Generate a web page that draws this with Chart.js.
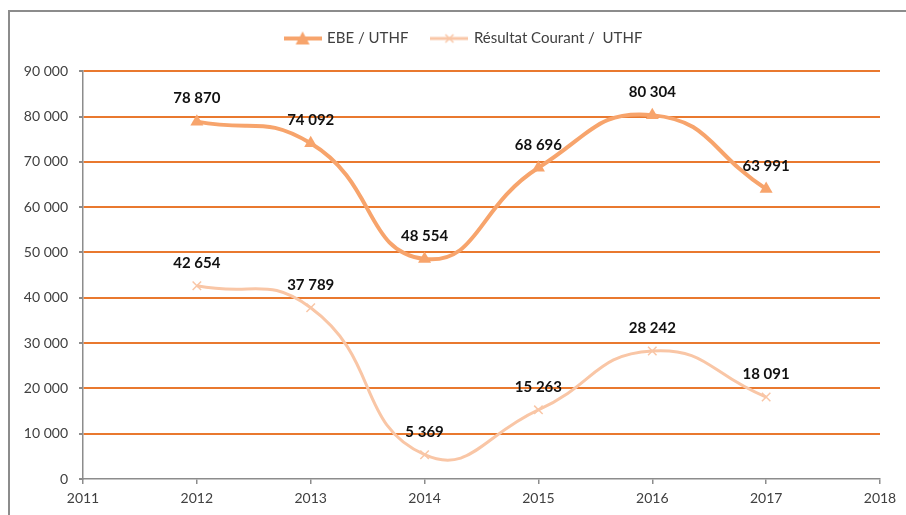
<!DOCTYPE html>
<html>
<head>
<meta charset="utf-8">
<script src="https://cdn.jsdelivr.net/npm/chart.js@4.4.1/dist/chart.umd.min.js"></script>
<style>
  html, body { margin: 0; padding: 0; background: #fff; }
  #wrap { position: relative; width: 906px; height: 515px; }
</style>
</head>
<body>
<div id="wrap"><canvas id="chart" width="906" height="515"></canvas></div>
<script>
"use strict";

// data
const years = [2012, 2013, 2014, 2015, 2016, 2017];
const ebeValues = [78870, 74092, 48554, 68696, 80304, 63991];
const resultatValues = [42654, 37789, 5369, 15263, 28242, 18091];
const seriesNames = ["EBE / UTHF", "R\u00e9sultat Courant /  UTHF"];
const xTicks = [2011, 2012, 2013, 2014, 2015, 2016, 2017, 2018];
const yTicks = [0, 10000, 20000, 30000, 40000, 50000, 60000, 70000, 80000, 90000];

const ebeColor = "#F7A46C";
const resColor = "#F9C6A6";
const gridColor = "#E9792F";
const axisColor = "#8C8C8C";
const fontFamily = "Lato, 'Open Sans', sans-serif";

function fmt(v) {
  return String(v).replace(/\B(?=(\d{3})+(?!\d))/g, " ");
}

// little legend pictures: line + marker, like the spreadsheet legend
function legendIcon(color, lineW, marker) {
  const c = document.createElement("canvas");
  c.width = 38;
  c.height = 16;
  const g = c.getContext("2d");
  g.strokeStyle = color;
  g.fillStyle = color;
  g.lineWidth = lineW;
  g.beginPath();
  g.moveTo(0, 8);
  g.lineTo(38, 8);
  g.stroke();
  if (marker === "triangle") {
    g.beginPath();
    g.moveTo(19, 1);
    g.lineTo(26, 14);
    g.lineTo(12, 14);
    g.closePath();
    g.fill();
  } else {
    g.lineWidth = 1.5;
    g.beginPath();
    g.moveTo(15, 4);
    g.lineTo(23, 12);
    g.moveTo(23, 4);
    g.lineTo(15, 12);
    g.stroke();
  }
  return c;
}
const icons = [legendIcon(ebeColor, 4, "triangle"), legendIcon(resColor, 3, "cross")];

// outer frame of the chart object
const framePlugin = {
  id: "frame",
  beforeDraw(chart) {
    const ctx = chart.ctx;
    ctx.save();
    ctx.strokeStyle = axisColor;
    ctx.lineWidth = 2;
    ctx.beginPath();
    ctx.moveTo(9, 515);
    ctx.lineTo(9, 11);
    ctx.lineTo(906, 11);
    ctx.stroke();
    ctx.restore();
  },
};

// legend is centred on the whole frame, not on the plot area
const legendShift = {
  id: "legendShift",
  afterLayout(chart) {
    if (chart.legend) chart.legend.left += 26;
  },
};

// value labels above each point
const valueLabels = {
  id: "valueLabels",
  afterDatasetsDraw(chart) {
    const ctx = chart.ctx;
    ctx.save();
    ctx.font = "bold 15px " + fontFamily;
    ctx.fillStyle = "#111";
    ctx.textAlign = "center";
    ctx.textBaseline = "middle";
    chart.data.datasets.forEach((ds, i) => {
      const meta = chart.getDatasetMeta(i);
      meta.data.forEach((pt, j) => {
        ctx.fillText(fmt(ds.data[j].y), pt.x, pt.y - 23);
      });
    });
    ctx.restore();
  },
};

const ctx = document.getElementById("chart").getContext("2d");

new Chart(ctx, {
  type: "line",
  data: {
    datasets: [
      {
        label: seriesNames[0],
        data: years.map((y, i) => ({ x: y, y: ebeValues[i] })),
        borderColor: ebeColor,
        backgroundColor: ebeColor,
        borderWidth: 4,
        tension: 0.5,
        pointStyle: "triangle",
        pointRadius: 7.5,
        pointBorderWidth: 0,
        pointBackgroundColor: ebeColor,
      },
      {
        label: seriesNames[1],
        data: years.map((y, i) => ({ x: y, y: resultatValues[i] })),
        borderColor: resColor,
        backgroundColor: resColor,
        borderWidth: 3,
        tension: 0.5,
        pointStyle: "crossRot",
        pointRadius: 6,
        pointBorderWidth: 1.5,
        pointBorderColor: resColor,
      },
    ],
  },
  options: {
    responsive: false,
    animation: false,
    layout: { padding: { left: 22, right: 26, top: 7, bottom: 0 } },
    plugins: {
      tooltip: { enabled: false },
      // empty spacer between the legend and the plot area
      subtitle: {
        display: true,
        text: "",
        weight: 500,
        font: { size: 1 },
        padding: { top: 0, bottom: 14 },
      },
      legend: {
        position: "top",
        labels: {
          usePointStyle: true,
          pointStyleWidth: 34,
          padding: 24,
          color: "#404040",
          font: { family: fontFamily, size: 15 },
          generateLabels(chart) {
            const items = Chart.defaults.plugins.legend.labels.generateLabels(chart);
            items.forEach((it, i) => {
              it.pointStyle = icons[i];
            });
            return items;
          },
        },
      },
    },
    scales: {
      x: {
        type: "linear",
        min: xTicks[0],
        max: xTicks[xTicks.length - 1],
        afterBuildTicks(scale) {
          scale.ticks = xTicks.map((v) => ({ value: v }));
        },
        afterFit(scale) {
          scale.height = 36;
        },
        border: { color: axisColor, width: 1.5 },
        grid: {
          drawOnChartArea: false,
          drawTicks: true,
          tickLength: 5,
          tickColor: axisColor,
          lineWidth: 1.5,
        },
        ticks: {
          padding: 6,
          color: "#404040",
          font: { family: fontFamily, size: 14 },
          maxRotation: 0,
          callback: (v) => String(v),
        },
      },
      y: {
        min: 0,
        max: 90000,
        afterBuildTicks(scale) {
          scale.ticks = yTicks.map((v) => ({ value: v }));
        },
        afterFit(scale) {
          scale.width = 61;
        },
        border: { color: axisColor, width: 1.5 },
        grid: {
          color: (c) => (c.tick && c.tick.value === 0 ? "rgba(0,0,0,0)" : gridColor),
          lineWidth: 2,
          drawTicks: true,
          tickLength: 4,
          tickColor: axisColor,
        },
        ticks: {
          padding: 11,
          color: "#404040",
          font: { family: fontFamily, size: 14 },
          callback: (v) => fmt(v),
        },
      },
    },
  },
  plugins: [framePlugin, legendShift, valueLabels],
});
</script>
</body>
</html>
